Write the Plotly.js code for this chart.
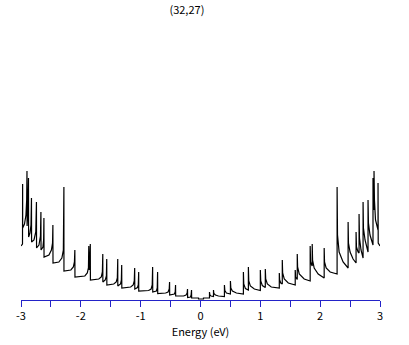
<!DOCTYPE html>
<html>
<head>
<meta charset="utf-8">
<script src="https://cdn.plot.ly/plotly-3.0.1.min.js"></script>
<style>html,body{margin:0;padding:0;background:#fff;}#chart{width:409px;height:345px;}</style>
</head>
<body>
<div id="chart"></div>
<script>
// Energy (eV) and density of states (arbitrary units), negative-energy side
const energyNeg = [
  -3.000, -2.975, -2.973, -2.972, -2.942, -2.917, -2.905,
  -2.900, -2.898, -2.887,
  -2.875, -2.873, -2.850, -2.833,
  -2.825, -2.823, -2.783, -2.753,
  -2.742, -2.740, -2.700, -2.675,
  -2.667, -2.665, -2.633, -2.622,
  -2.617, -2.615, -2.533, -2.492, -2.473,
  -2.467, -2.465, -2.367, -2.317, -2.292,
  -2.283, -2.282, -2.167, -2.125, -2.107,
  -2.100, -2.098, -1.933, -1.892, -1.873,
  -1.867, -1.858, -1.847,
  -1.842, -1.840, -1.700, -1.658, -1.640,
  -1.633, -1.632, -1.592, -1.573,
  -1.567, -1.565, -1.450, -1.408, -1.390,
  -1.383, -1.382, -1.337, -1.323,
  -1.317, -1.315, -1.167, -1.125, -1.107,
  -1.100, -1.098, -1.053, -1.040,
  -1.033, -1.032, -0.867, -0.825, -0.807,
  -0.800, -0.798, -0.737, -0.723,
  -0.717, -0.715, -0.583, -0.542, -0.523,
  -0.517, -0.515, -0.437, -0.423,
  -0.417, -0.415, -0.283, -0.242, -0.223,
  -0.217, -0.215, -0.167, -0.157,
  -0.150, -0.148
];
const dosNeg = [
  0.53, 0.55, 1.15, 0.71, 0.75, 0.84, 0.99,
  1.28, 0.73, 0.87,
  1.21, 0.62, 0.66, 0.74,
  1.01, 0.57, 0.59, 0.67,
  0.97, 0.51, 0.54, 0.63,
  0.87, 0.49, 0.52, 0.59,
  0.81, 0.42, 0.44, 0.49, 0.56,
  0.74, 0.36, 0.37, 0.41, 0.49,
  1.12, 0.28, 0.29, 0.32, 0.37,
  0.49, 0.22, 0.23, 0.26, 0.31,
  0.53, 0.29, 0.37,
  0.55, 0.19, 0.20, 0.22, 0.27,
  0.45, 0.17, 0.19, 0.23,
  0.40, 0.14, 0.15, 0.17, 0.21,
  0.40, 0.13, 0.15, 0.19,
  0.34, 0.11, 0.12, 0.14, 0.18,
  0.31, 0.10, 0.115, 0.14,
  0.27, 0.08, 0.085, 0.10, 0.14,
  0.32, 0.07, 0.08, 0.11,
  0.27, 0.055, 0.06, 0.07, 0.10,
  0.17, 0.04, 0.05, 0.07,
  0.14, 0.03, 0.03, 0.04, 0.06,
  0.10, 0.015, 0.02, 0.04,
  0.09, 0.01
];
// Gap region around the Fermi level
const energyGap = [-0.033, -0.033, 0.050, 0.050];
const dosGap = [0.01, 0, 0, 0.01];
// Positive-energy side
const energyPos = [
  0.150, 0.150, 0.157, 0.175,
  0.217, 0.217, 0.223, 0.250, 0.300,
  0.400, 0.400, 0.407, 0.433,
  0.500, 0.500, 0.507, 0.533, 0.600,
  0.717, 0.717, 0.723, 0.750,
  0.800, 0.800, 0.807, 0.833, 0.900,
  1.000, 1.000, 1.007, 1.033,
  1.083, 1.083, 1.090, 1.117, 1.183,
  1.317, 1.317, 1.323, 1.342,
  1.367, 1.367, 1.373, 1.400, 1.467,
  1.583, 1.583, 1.590,
  1.617, 1.617, 1.623, 1.650, 1.733,
  1.833, 1.833, 1.840, 1.858,
  1.867, 1.867, 1.873, 1.900, 1.967,
  2.067, 2.067, 2.073, 2.100, 2.167,
  2.283, 2.283, 2.290, 2.317, 2.383,
  2.467, 2.467, 2.473, 2.500, 2.550,
  2.600, 2.600, 2.607, 2.633,
  2.650, 2.650, 2.657, 2.683,
  2.717, 2.717, 2.723, 2.750,
  2.800, 2.800, 2.807, 2.833,
  2.883, 2.883, 2.890,
  2.900, 2.900, 2.907, 2.925,
  2.967, 2.967, 2.970, 3.000
];
const dosPos = [
  0.01, 0.07, 0.04, 0.03,
  0.025, 0.09, 0.055, 0.04, 0.03,
  0.025, 0.14, 0.085, 0.06,
  0.05, 0.18, 0.11, 0.08, 0.06,
  0.05, 0.27, 0.15, 0.105,
  0.09, 0.32, 0.18, 0.13, 0.10,
  0.085, 0.29, 0.18, 0.135,
  0.115, 0.30, 0.20, 0.15, 0.12,
  0.11, 0.26, 0.19, 0.16,
  0.15, 0.39, 0.26, 0.20, 0.16,
  0.14, 0.29, 0.22,
  0.195, 0.45, 0.32, 0.25, 0.20,
  0.18, 0.53, 0.37, 0.34,
  0.33, 0.55, 0.39, 0.31, 0.25,
  0.21, 0.51, 0.37, 0.31, 0.27,
  0.25, 1.12, 0.64, 0.47, 0.37,
  0.31, 0.77, 0.56, 0.47, 0.40,
  0.36, 0.67, 0.52, 0.47,
  0.46, 0.85, 0.61, 0.49,
  0.41, 0.97, 0.71, 0.59,
  0.47, 0.99, 0.76, 0.64,
  0.54, 1.21, 0.94,
  0.89, 1.28, 0.99, 0.79,
  0.69, 1.16, 0.56, 0.53
];
const tickValues = [-3, -2.5, -2, -1.5, -1, -0.5, 0, 0.5, 1, 1.5, 2, 2.5, 3];
const tickLabels = ["-3", "", "-2", "", "-1", "", "0", "", "1", "", "2", "", "3"];

const energy = energyNeg.concat(energyGap, energyPos);
const dos = dosNeg.concat(dosGap, dosPos);

const axisBlue = "#2323c8";
const fontFam = "'Noto Sans CJK JP', 'DejaVu Sans', sans-serif";

Plotly.newPlot("chart", [{
  x: energy, y: dos, type: "scatter", mode: "lines",
  line: {color: "#000000", width: 1.2}, hoverinfo: "none"
}], {
  width: 409, height: 345,
  margin: {l: 21, r: 29, t: 20, b: 45, pad: 0},
  paper_bgcolor: "#ffffff", plot_bgcolor: "#ffffff",
  showlegend: false,
  title: {text: "(32,27)", xref: "container", yref: "container", x: 0.457, y: 0.972,
          xanchor: "center", yanchor: "middle", font: {family: fontFam, size: 11, color: "#000"}},
  xaxis: {
    range: [-3, 3], showgrid: false, zeroline: false,
    showline: true, linecolor: axisBlue, linewidth: 1,
    ticks: "outside", ticklen: 6, tickcolor: axisBlue, tickwidth: 1,
    tickmode: "array", tickvals: tickValues, ticktext: tickLabels,
    tickfont: {family: fontFam, size: 11, color: "#000"},
    title: {text: "Energy (eV)", standoff: 4, font: {family: fontFam, size: 11, color: "#000"}}
  },
  yaxis: {range: [-0.01, 2.79], visible: false, showgrid: false, zeroline: false}
}, {staticPlot: true, displayModeBar: false});
</script>
</body>
</html>
